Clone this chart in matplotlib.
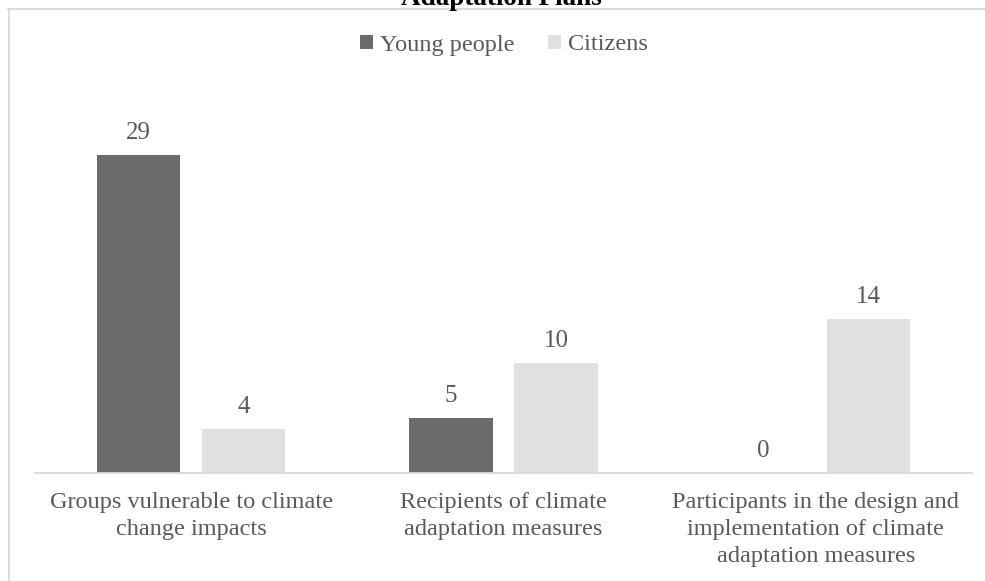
import numpy as np
import matplotlib.pyplot as plt

# categories and values
categories = ['Groups vulnerable to climate\nchange impacts',
              'Recipients of climate\nadaptation measures',
              'Participants in the design and\nimplementation of climate\nadaptation measures']
young_people = [29, 5, 0]
citizens = [4, 10, 14]
series_names = ['Young people', 'Citizens']

dark = '#6b6b6b'
light = '#e0e0e0'
txt = '#595959'

plt.rcParams['font.family'] = ['Liberation Serif', 'DejaVu Serif']

fig = plt.figure(figsize=(9.85, 5.81), dpi=100)
ax = fig.add_axes([35/985, 108/581, 937/985, 384/581])

x = np.arange(len(categories))
w = 0.266
off = 0.168
b1 = ax.bar(x - off, young_people, w, color=dark, label=series_names[0])
b2 = ax.bar(x + off, citizens, w, color=light, label=series_names[1])

for bars in (b1, b2):
    ax.bar_label(bars, padding=8, fontsize=18, color=txt)

ax.set_xlim(-0.5, 2.5)
ax.set_ylim(0, 35)
ax.set_yticks([])
ax.set_xticks(x)
ax.set_xticklabels(categories, fontsize=17.5, color=txt, linespacing=1.36)
ax.tick_params(axis='x', length=0, pad=14)
for s in ['top', 'right', 'left']:
    ax.spines[s].set_visible(False)
ax.spines['bottom'].set_color('#d9d9d9')
ax.spines['bottom'].set_linewidth(1.3)

leg = fig.legend(loc='center', bbox_to_anchor=(504/985, 1 - 45/581), ncol=2,
                 frameon=False, fontsize=17.5, handlelength=0.55, handleheight=0.55,
                 handletextpad=0.3, columnspacing=1.35, labelcolor=txt)

# outer chart border (cropped at right and bottom)
fig.add_artist(plt.Line2D([8/985, 1], [1 - 8.5/581, 1 - 8.5/581], color='#d9d9d9', lw=1.3))
fig.add_artist(plt.Line2D([8.5/985, 8.5/985], [0, 1 - 8.5/581], color='#d9d9d9', lw=1.3))

# title, mostly cut off at the top of the image (as in the source)
fig.text(501/985, 1 - 5/581, 'Adaptation Plans', ha='center', va='baseline',
         fontsize=19.5, fontweight='bold', color='black')

fig.savefig('out.png', dpi=100)
